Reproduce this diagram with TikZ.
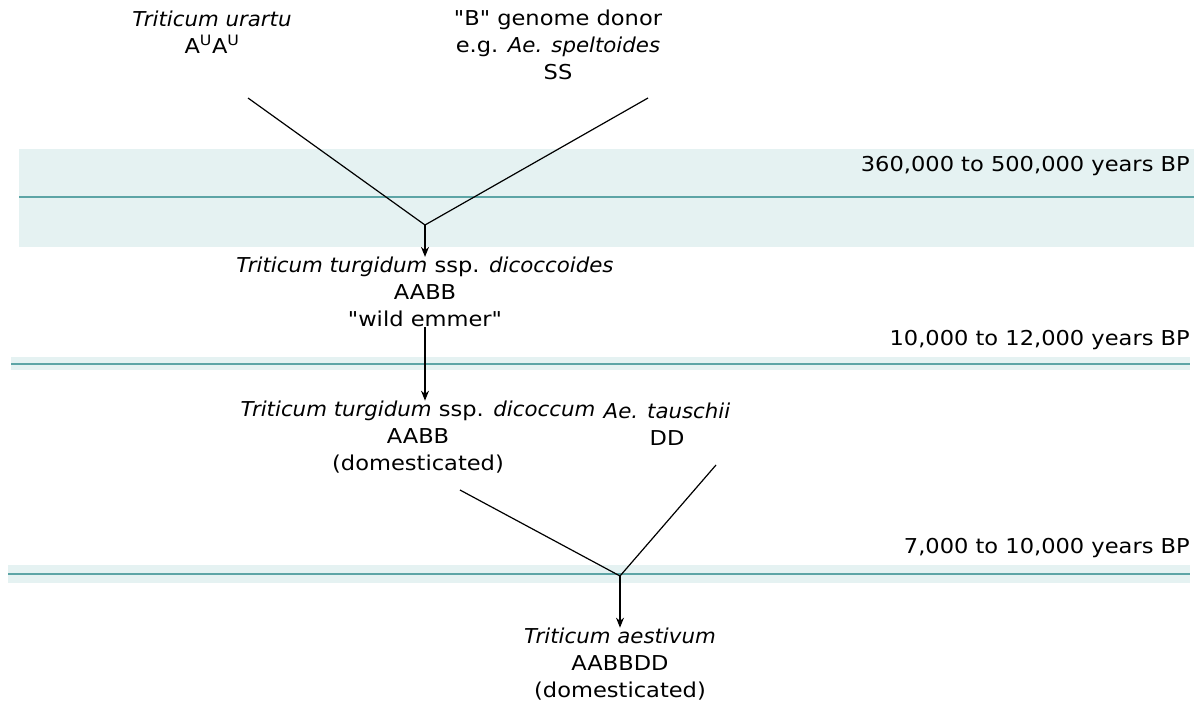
\documentclass[tikz,border=0pt]{standalone}
\usepackage{fontspec}
\setmainfont{DejaVu Sans}[Ligatures=TeXOff, UprightFeatures={FakeStretch=1.1}, ItalicFeatures={FakeStretch=1.04}]
\usetikzlibrary{arrows.meta}
\definecolor{bandfill}{HTML}{E5F2F2}
\definecolor{bandline}{HTML}{5DA5A6}
\tikzset{
  lbl/.style={align=center, inner sep=0pt, font=\fontsize{20.5}{27}\selectfont},
  era/.style={anchor=east, inner sep=0pt, font=\fontsize{20.5}{23}\selectfont},
  band/.style={fill=bandfill, draw=none},
  bline/.style={draw=bandline, line width=2pt},
  conn/.style={draw=black, line width=1.2pt},
  arr/.style={draw=black, line width=1.2pt, -{Stealth[length=10pt,width=8pt]}}
}
\begin{document}
\begin{tikzpicture}[x=1pt,y=-1pt]
\useasboundingbox (0,0) rectangle (1194,709);
% bands
\fill[band] (19,149) rectangle (1194,247);
\draw[bline] (19,197) -- (1194,197);
\fill[band] (11,357) rectangle (1190,370);
\draw[bline] (11,363.5) -- (1190,363.5);
\fill[band] (8,565) rectangle (1190,583);
\draw[bline] (8,574) -- (1190,574);
% era labels
\node[era] (e1) at (1190,166) {360,000 to 500,000 years BP};
\node[era] (e2) at (1190,340) {10,000 to 12,000 years BP};
\node[era] (e3) at (1190,548) {7,000 to 10,000 years BP};
% taxa
\node[lbl] (urartu) at (212,32) {\itshape Triticum urartu\\A\textsuperscript{U}A\textsuperscript{U}};
\node[lbl] (bdonor) at (558,45) {"B" genome donor\\e.g. \textit{Ae. speltoides}\\SS};
\node[lbl] (dicoccoides) at (425,292) {\textit{Triticum turgidum} ssp. \textit{dicoccoides}\\AABB\\"wild emmer"};
\node[lbl] (dicoccum) at (418,437) {\textit{Triticum turgidum} ssp. \textit{dicoccum}\\AABB\\(domesticated)};
\node[lbl] (tauschii) at (667,424) {\textit{Ae. tauschii}\\DD};
\node[lbl] (aestivum) at (620,664) {\textit{Triticum aestivum}\\AABBDD\\(domesticated)};
% connector points
\coordinate (u1) at (248,98);
\coordinate (b1) at (648,98);
\coordinate (j1) at (425,225);
\coordinate (d1) at (460,490);
\coordinate (t1) at (716,465);
\coordinate (j2) at (620,576);
\draw[conn] (u1) -- (j1) -- (b1);
\draw[arr] (j1) -- (dicoccoides.north);
\draw[arr] (dicoccoides.south) -- (dicoccoides.south |- dicoccum.north);
\draw[conn] (d1) -- (j2) -- (t1);
\draw[arr] (j2) -- (aestivum.north);
\end{tikzpicture}
\end{document}
